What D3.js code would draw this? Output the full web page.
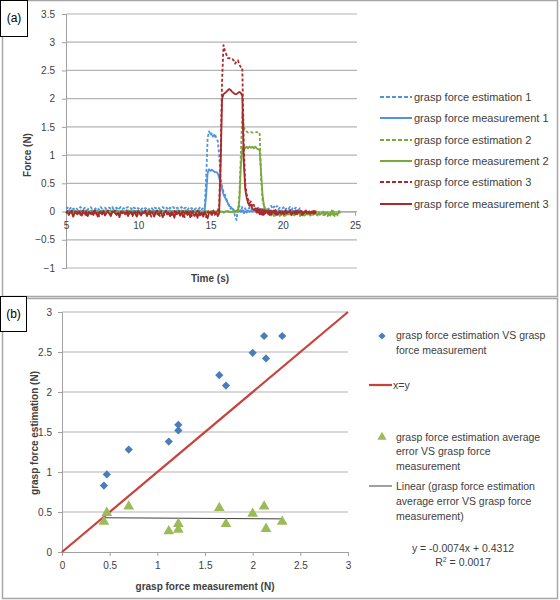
<!DOCTYPE html>
<html><head><meta charset="utf-8">
<script src="https://cdn.jsdelivr.net/npm/d3@7/dist/d3.min.js"></script>
<style>
body{margin:0;background:#fff}
svg{display:block}
text{font-family:"Liberation Sans",Arial,sans-serif;fill:#404040}
</style>
</head><body>
<svg id="c" width="560" height="600"></svg>
<script>
// ---------- Panel (a): time series, samples every 0.1 s starting at 5 s ----------
const timeStart = 5, timeStep = 0.1;
const seriesNamesA = ["grasp force estimation 1","grasp force measurement 1","grasp force estimation 2","grasp force measurement 2","grasp force estimation 3","grasp force measurement 3"];
const timeTicks = [5,10,15,20,25];
const forceTicks = [-1,-0.5,0,0.5,1,1.5,2,2.5,3,3.5];

const est1 = [
0.05,0.07,0.03,0.06,0.08,0.04,0.06,0.07,0.03,0.06,
0.08,0.05,0.04,0.07,0.06,0.03,0.07,0.08,0.05,0.06,
0.04,0.07,0.06,0.03,0.08,0.05,0.06,0.07,0.04,0.06,
0.07,0.05,0.08,0.04,0.06,0.07,0.03,0.06,0.08,0.05,
0.06,0.04,0.07,0.08,0.05,0.06,0.03,0.07,0.06,0.08,
0.05,0.07,0.04,0.06,0.08,0.05,0.07,0.03,0.06,0.07,
0.04,0.08,0.06,0.05,0.07,0.04,0.06,0.08,0.05,0.07,
0.06,0.03,0.07,0.05,0.08,0.06,0.04,0.07,0.05,0.06,
0.08,0.04,0.06,0.07,0.03,0.06,0.08,0.05,0.07,0.04,
0.06,0.07,0.05,0.08,0.04,0.06,0.07,0.6,1.3,1.42,
1.35,1.4,1.3,1.38,1.3,1.25,1.0,0.6,0.45,0.35,
0.3,0.22,0.15,0.1,0.05,0.08,0.02,-0.08,-0.15,0.05,
0.1,0.0,0.08,-0.05,0.06,-0.02,0.04,0.07,0.02,0.05,
0.03,0.06,0.02,0.07,0.04,0.05,0.02,0.06,0.03,0.05,
0.04,0.08,0.1,0.05,0.09,0.06,0.1,0.04,0.07,0.05,
0.06,0.09,0.04,0.07,0.05,0.08,0.03,0.06,0.04,0.07,
0.05,0.03,0.06,0.04];
const meas1 = [
0.01,0.0,0.02,0.01,0.0,0.01,0.02,0.0,0.01,0.0,
0.02,0.01,0.0,0.01,0.02,0.0,0.0,0.01,0.02,0.01,
0.0,0.02,0.01,0.0,0.01,0.0,0.02,0.01,0.0,0.01,
0.01,0.0,0.02,0.0,0.01,0.02,0.01,0.0,0.01,0.02,
0.0,0.01,0.0,0.02,0.01,0.0,0.01,0.02,0.0,0.01,
0.02,0.0,0.01,0.01,0.0,0.02,0.0,0.01,0.02,0.0,
0.01,0.02,0.0,0.01,0.0,0.01,0.02,0.01,0.0,0.02,
0.0,0.01,0.02,0.0,0.01,0.0,0.01,0.02,0.01,0.0,
0.02,0.0,0.01,0.02,0.0,0.01,0.0,0.02,0.01,0.0,
0.01,0.0,0.02,0.01,0.0,0.01,0.02,0.3,0.68,0.75,
0.72,0.74,0.72,0.7,0.7,0.68,0.6,0.5,0.4,0.3,
0.25,0.2,0.15,0.1,0.08,0.05,0.03,0.0,0.02,0.0,
0.01,0.0,0.02,0.01,0.0,0.01,0.02,0.0,0.01,0.0,
0.02,0.01,0.0,0.01,0.02,0.0,0.01,0.0,0.02,0.01,
0.0,0.01,0.02,0.0,0.01,0.02,0.0,0.01,0.0,0.02,
0.01,0.0,0.02,0.01,0.0,0.01,0.02,0.0,0.01,0.0,
0.01,0.0,0.02,0.01];
const est2 = [
0.0,-0.01,0.01,0.0,-0.02,0.01,0.0,-0.01,0.0,0.01,
-0.01,0.0,0.01,-0.02,0.0,0.01,-0.01,0.0,0.0,-0.01,
0.01,0.0,-0.01,0.0,0.01,-0.02,0.0,0.01,0.0,-0.01,
0.0,0.01,-0.01,0.0,-0.02,0.0,0.01,0.0,-0.01,0.01,
-0.01,0.0,0.0,0.01,-0.01,0.0,-0.02,0.01,0.0,0.0,
0.01,-0.01,0.0,0.0,-0.01,0.01,0.0,-0.02,0.0,0.01,
0.0,0.0,-0.01,0.01,0.0,-0.01,0.0,0.01,-0.02,0.0,
-0.01,0.01,0.0,0.0,-0.01,0.0,0.01,-0.01,0.0,0.0,
0.0,-0.02,0.01,0.0,-0.01,0.0,0.0,0.01,-0.01,0.0,
0.01,0.0,-0.01,0.0,0.0,-0.02,0.01,0.0,-0.01,0.0,
0.0,0.01,-0.01,0.0,0.0,0.01,-0.01,0.0,0.01,-0.02,
-0.01,0.0,0.01,0.0,-0.01,0.0,0.0,-0.02,0.01,0.0,
0.3,1.0,1.75,1.5,1.45,1.42,1.4,1.4,1.41,1.4,
1.4,1.4,1.41,1.4,1.4,0.6,0.2,0.1,0.05,0.0,
-0.05,0.01,-0.07,-0.02,-0.08,0.0,-0.06,-0.03,-0.08,0.01,
-0.04,-0.08,-0.02,-0.07,0.0,-0.05,-0.08,-0.03,-0.06,0.01,
-0.07,-0.02,-0.08,-0.04,0.0,-0.07,-0.05,-0.08,-0.01,-0.06,
-0.08,-0.03,-0.06,0.01,-0.08,-0.04,-0.07,-0.02,-0.08,0.0,
-0.05,-0.08,-0.03,-0.07,0.02,-0.06,-0.08,-0.04,-0.07,0.01,
-0.03];
const meas2 = [
0.0,0.0,-0.01,0.0,0.0,0.01,0.0,0.0,-0.01,0.0,
0.0,0.01,0.0,0.0,-0.01,0.0,0.0,0.0,0.01,0.0,
-0.01,0.0,0.0,0.0,0.01,0.0,0.0,-0.01,0.0,0.0,
0.0,0.0,0.01,0.0,0.0,-0.01,0.0,0.0,0.0,0.01,
0.0,-0.01,0.0,0.0,0.0,0.01,0.0,0.0,-0.01,0.0,
0.01,0.0,0.0,-0.01,0.0,0.0,0.0,0.01,0.0,0.0,
0.0,-0.01,0.0,0.0,0.01,0.0,0.0,0.0,-0.01,0.0,
0.0,0.0,0.01,0.0,0.0,-0.01,0.0,0.0,0.0,0.01,
-0.01,0.0,0.0,0.0,0.01,0.0,0.0,-0.01,0.0,0.0,
0.0,0.01,0.0,0.0,-0.01,0.0,0.0,0.0,0.01,0.0,
0.0,0.0,-0.01,0.0,0.0,0.01,0.0,0.0,0.0,-0.01,
0.0,0.01,0.0,0.0,-0.01,0.0,0.0,0.01,0.0,0.0,
0.2,0.8,1.1,1.15,1.12,1.15,1.12,1.15,1.13,1.15,
1.12,1.15,1.12,1.1,1.1,0.7,0.3,0.1,0.05,0.0,
-0.03,-0.06,0.0,-0.05,-0.02,-0.07,-0.01,-0.05,-0.03,-0.06,
0.0,-0.04,-0.07,-0.02,-0.05,0.0,-0.06,-0.03,-0.07,-0.01,
-0.05,0.0,-0.06,-0.02,-0.07,-0.04,0.0,-0.05,-0.03,-0.07,
-0.02,-0.06,0.0,-0.04,-0.07,-0.01,-0.05,-0.03,0.0,-0.06,
-0.04,-0.01,-0.07,-0.02,-0.05,0.01,-0.06,-0.03,-0.05,0.0,
-0.02];
const est3 = [
-0.02,0.01,-0.05,-0.01,0.02,-0.08,-0.02,0.0,-0.04,0.01,
-0.06,-0.01,0.02,-0.03,-0.09,0.0,-0.02,0.01,-0.05,-0.01,
0.02,-0.04,-0.01,-0.08,0.0,-0.03,0.01,-0.06,-0.02,0.02,
-0.01,-0.07,0.0,-0.03,0.02,-0.05,-0.01,-0.09,0.01,-0.02,
0.0,-0.04,0.02,-0.06,-0.01,0.01,-0.08,-0.02,0.0,-0.05,
0.02,-0.03,-0.07,0.0,-0.01,0.02,-0.06,-0.02,0.01,-0.09,
-0.01,0.0,-0.05,0.02,-0.03,-0.08,0.01,-0.02,-0.06,0.0,
0.02,-0.04,-0.01,-0.09,0.0,0.01,-0.06,-0.02,0.02,-0.07,
-0.03,0.01,-0.1,-0.01,0.02,-0.05,0.0,-0.08,0.01,-0.03,
-0.06,0.02,-0.02,-0.09,0.0,-0.04,0.01,-0.1,-0.02,0.02,
0.0,-0.03,0.02,-0.06,-0.01,0.01,0.1,1.0,2.3,2.95,
2.85,2.78,2.72,2.72,2.7,2.7,2.68,2.62,2.66,2.68,
2.6,2.56,2.55,1.2,0.5,0.3,0.22,0.15,0.18,0.08,
0.12,0.03,0.08,-0.02,0.06,-0.05,0.04,-0.08,0.03,-0.04,
0.02,-0.06,0.01,-0.03,0.03,-0.07,0.0,-0.04,0.02,-0.06,
-0.01,0.02,-0.05,0.0,-0.03,0.03,-0.06,-0.01,0.01,-0.05,
0.02,-0.03,0.0,-0.06,0.01,-0.02,0.02,-0.05,-0.01,0.01,
-0.02,0.01,-0.04,0.0];
const meas3 = [
-0.03,-0.01,-0.06,0.0,-0.02,-0.09,-0.01,-0.03,-0.05,0.0,
-0.02,-0.07,-0.01,-0.03,0.0,-0.08,-0.02,-0.04,-0.01,-0.06,
0.0,-0.03,-0.09,-0.01,-0.02,-0.05,0.0,-0.07,-0.02,-0.01,
-0.04,-0.08,-0.01,0.0,-0.03,-0.06,-0.02,-0.1,0.0,-0.03,
-0.01,-0.05,-0.02,-0.08,0.0,-0.03,-0.06,-0.01,-0.04,-0.09,
0.0,-0.02,-0.07,-0.01,-0.03,0.0,-0.08,-0.02,-0.05,-0.01,
-0.03,-0.09,0.0,-0.02,-0.06,-0.01,-0.04,-0.1,-0.02,0.0,
-0.05,-0.02,-0.08,-0.01,-0.03,-0.11,0.0,-0.04,-0.02,-0.07,
-0.01,-0.09,-0.03,0.0,-0.06,-0.02,-0.1,-0.01,-0.04,-0.08,
-0.02,-0.11,0.0,-0.05,-0.03,-0.09,-0.01,-0.06,-0.12,-0.02,
-0.02,-0.06,0.0,-0.04,-0.01,-0.08,-0.03,0.8,2.0,2.08,
2.1,2.12,2.15,2.17,2.15,2.12,2.1,2.08,2.08,2.1,
2.12,2.1,2.05,0.9,0.4,0.25,0.15,0.1,0.12,0.05,
0.03,0.05,-0.02,0.04,-0.05,0.02,-0.06,0.03,-0.03,0.01,
-0.04,0.02,-0.05,0.0,-0.02,0.03,-0.06,-0.01,0.01,-0.04,
0.0,-0.05,0.02,-0.03,-0.01,0.01,-0.06,0.0,-0.03,0.02,
-0.04,0.0,-0.02,0.01,-0.05,-0.01,0.02,-0.03,0.0,-0.04,
0.0,-0.03,0.01,-0.02];

// ---------- Panel (b): scatter ----------
const measurementN = [0.44,0.47,0.70,1.12,1.22,1.22,1.65,1.72,2.00,2.12,2.14,2.31];
const estimationN  = [0.83,0.97,1.28,1.38,1.52,1.59,2.21,2.08,2.49,2.70,2.42,2.70];
const avgErrorN    = [0.38,0.49,0.57,0.26,0.28,0.35,0.55,0.35,0.48,0.57,0.29,0.38];
const trendSlope = -0.0074, trendIntercept = 0.4312;
const scatterTicks = [0,0.5,1,1.5,2,2.5,3];

// ---------- drawing ----------
const svg = d3.select("#c");
const gridCol = "#b4b4b4", axisCol = "#a0a0a0";
const blueA = "#4f94dc", greenA = "#79a93b", redA = "#a82a2a";

// panel frames
svg.append("rect").attr("x",2.5).attr("y",0.5).attr("width",555).attr("height",296)
  .attr("fill","#fff").attr("stroke","#a6a6a6").attr("stroke-width",1.5);
svg.append("rect").attr("x",2.5).attr("y",298.5).attr("width",555).attr("height",300)
  .attr("fill","#fff").attr("stroke","#a6a6a6").attr("stroke-width",1.5);

// ----- (a) -----
const xA = d3.scaleLinear().domain([5,25]).range([66,355]);
const yA = d3.scaleLinear().domain([-1,3.5]).range([268,14]);
const gA = svg.append("g");
gA.selectAll("line.grid").data(forceTicks).join("line")
  .attr("x1",66).attr("x2",357).attr("y1",d=>yA(d)).attr("y2",d=>yA(d))
  .attr("stroke",gridCol).attr("stroke-width",1.2);
// y axis
gA.append("g").attr("transform","translate(66,0)")
  .call(d3.axisLeft(yA).tickValues(forceTicks).tickFormat(d3.format("")).tickSize(4).tickPadding(7))
  .call(g=>{g.select(".domain").attr("stroke",axisCol);g.selectAll(".tick line").attr("stroke",axisCol);
    g.selectAll("text").attr("font-size",10).attr("font-family","Liberation Sans, Arial").attr("fill","#404040");});
// x axis at y=0
gA.append("g").attr("transform",`translate(0,${yA(0)})`)
  .call(d3.axisBottom(xA).tickValues(timeTicks).tickFormat(d3.format("")).tickSize(4).tickPadding(6))
  .call(g=>{g.select(".domain").attr("stroke",axisCol);g.selectAll(".tick line").attr("stroke",axisCol);
    g.selectAll("text").attr("font-size",10).attr("font-family","Liberation Sans, Arial").attr("fill","#404040");});

const seriesA = [
  {v:est1, c:blueA, dash:"3,2"},
  {v:meas1, c:blueA, dash:null},
  {v:est2, c:greenA, dash:"3,2"},
  {v:meas2, c:greenA, dash:null},
  {v:est3, c:redA, dash:"3,2"},
  {v:meas3, c:redA, dash:null}
];
const lineA = d3.line().x((d,i)=>xA(timeStart+i*timeStep)).y(d=>yA(d));
seriesA.forEach(s=>{
  gA.append("path").attr("d",lineA(s.v)).attr("fill","none")
    .attr("stroke",s.c).attr("stroke-width",1.8)
    .attr("stroke-dasharray",s.dash).attr("stroke-linejoin","round");
});
gA.append("text").attr("x",210).attr("y",282).attr("text-anchor","middle")
  .attr("font-size",10).attr("font-weight","bold").text("Time (s)");
gA.append("text").attr("transform","translate(31,155) rotate(-90)").attr("text-anchor","middle")
  .attr("font-size",10).attr("font-weight","bold").text("Force (N)");

// legend (a)
const legA = gA.append("g");
seriesNamesA.forEach((n,i)=>{
  const y = [97,118,140,161,182,204][i];
  legA.append("line").attr("x1",380).attr("x2",412).attr("y1",y).attr("y2",y)
    .attr("stroke",seriesA[i].c).attr("stroke-width",2).attr("stroke-dasharray",seriesA[i].dash?"4,2":null);
  legA.append("text").attr("x",414).attr("y",y+4).attr("font-size",11).text(n);
});

// label box (a)
svg.append("rect").attr("x",0.5).attr("y",0.5).attr("width",27).attr("height",36)
  .attr("fill","#fff").attr("stroke","#000").attr("stroke-width",1);
svg.append("text").attr("x",14).attr("y",22).attr("text-anchor","middle").attr("font-size",12)
  .attr("fill","#000").style("fill","#000").text("(a)");

// ----- (b) -----
const xB = d3.scaleLinear().domain([0,3]).range([62,348]);
const yB = d3.scaleLinear().domain([0,3]).range([552,312]);
const gB = svg.append("g");
gB.selectAll("line.grid").data(scatterTicks.slice(1)).join("line")
  .attr("x1",62).attr("x2",348).attr("y1",d=>yB(d)).attr("y2",d=>yB(d))
  .attr("stroke",gridCol).attr("stroke-width",1.2);
gB.append("g").attr("transform","translate(62,0)")
  .call(d3.axisLeft(yB).tickValues(scatterTicks).tickFormat(d3.format("")).tickSize(4).tickPadding(6))
  .call(g=>{g.select(".domain").attr("stroke",axisCol);g.selectAll(".tick line").attr("stroke",axisCol);
    g.selectAll("text").attr("font-size",10).attr("font-family","Liberation Sans, Arial").attr("fill","#404040");});
gB.append("g").attr("transform",`translate(0,${yB(0)})`)
  .call(d3.axisBottom(xB).tickValues(scatterTicks).tickFormat(d3.format("")).tickSize(4).tickPadding(6))
  .call(g=>{g.select(".domain").attr("stroke",axisCol);g.selectAll(".tick line").attr("stroke",axisCol);
    g.selectAll("text").attr("font-size",10).attr("font-family","Liberation Sans, Arial").attr("fill","#404040");});

// x=y line
gB.append("line").attr("x1",xB(0)).attr("y1",yB(0)).attr("x2",xB(3)).attr("y2",yB(3))
  .attr("stroke","#c8413b").attr("stroke-width",2.2);
// trend line
const xMin = d3.min(measurementN), xMax = d3.max(measurementN);
gB.append("line").attr("x1",xB(xMin)).attr("y1",yB(trendSlope*xMin+trendIntercept))
  .attr("x2",xB(xMax)).attr("y2",yB(trendSlope*xMax+trendIntercept))
  .attr("stroke","#404040").attr("stroke-width",1);
// diamonds
const diamond = d3.symbol().type(d3.symbolSquare).size(34);
gB.selectAll("path.dia").data(measurementN).join("path")
  .attr("transform",(d,i)=>`translate(${xB(d)},${yB(estimationN[i])}) rotate(45)`)
  .attr("d",diamond).attr("fill","#4a7ebb");
// triangles
const tri = d3.symbol().type(d3.symbolTriangle).size(50);
gB.selectAll("path.tri").data(measurementN).join("path")
  .attr("transform",(d,i)=>`translate(${xB(d)},${yB(avgErrorN[i])})`)
  .attr("d",tri).attr("fill","#9bbb59");

gB.append("text").attr("x",205).attr("y",590).attr("text-anchor","middle")
  .attr("font-size",10).attr("font-weight","bold").text("grasp force measurement (N)");
gB.append("text").attr("transform","translate(38,433) rotate(-90)").attr("text-anchor","middle")
  .attr("font-size",10).attr("font-weight","bold").text("grasp force estimation (N)");

// legend (b)
const legB = gB.append("g");
legB.append("path").attr("transform","translate(382,336) rotate(45)").attr("d",d3.symbol().type(d3.symbolSquare).size(26)()).attr("fill","#4a7ebb");
[["grasp force estimation VS grasp",339],["force measurement",354]].forEach(([t,y])=>
  legB.append("text").attr("x",396).attr("y",y).attr("font-size",10.5).text(t));
legB.append("line").attr("x1",369).attr("x2",392).attr("y1",385).attr("y2",385).attr("stroke","#c8413b").attr("stroke-width",2.2);
legB.append("text").attr("x",393).attr("y",389).attr("font-size",10.5).text("x=y");
legB.append("path").attr("transform","translate(382,437)").attr("d",d3.symbol().type(d3.symbolTriangle).size(36)()).attr("fill","#9bbb59");
[["grasp force estimation average",441],["error VS grasp force",455],["measurement",470]].forEach(([t,y])=>
  legB.append("text").attr("x",396).attr("y",y).attr("font-size",10.5).text(t));
legB.append("line").attr("x1",369).attr("x2",392).attr("y1",486).attr("y2",486).attr("stroke","#404040").attr("stroke-width",1);
[["Linear (grasp force estimation",490],["average error VS grasp force",505],["measurement)",520]].forEach(([t,y])=>
  legB.append("text").attr("x",396).attr("y",y).attr("font-size",10.5).text(t));
legB.append("text").attr("x",463).attr("y",552).attr("text-anchor","middle").attr("font-size",10.5)
  .text(`y = ${trendSlope}x + ${trendIntercept}`);
const r2 = legB.append("text").attr("x",463).attr("y",566).attr("text-anchor","middle").attr("font-size",10.5);
r2.append("tspan").text("R");
r2.append("tspan").attr("dy",-4).attr("font-size",7).text("2");
r2.append("tspan").attr("dy",4).text(" = 0.0017");

// label box (b)
svg.append("rect").attr("x",0.5).attr("y",296.5).attr("width",26).attr("height",35)
  .attr("fill","#fff").attr("stroke","#000").attr("stroke-width",1);
svg.append("text").attr("x",13.5).attr("y",318).attr("text-anchor","middle").attr("font-size",12)
  .style("fill","#000").text("(b)");
</script>
</body></html>
